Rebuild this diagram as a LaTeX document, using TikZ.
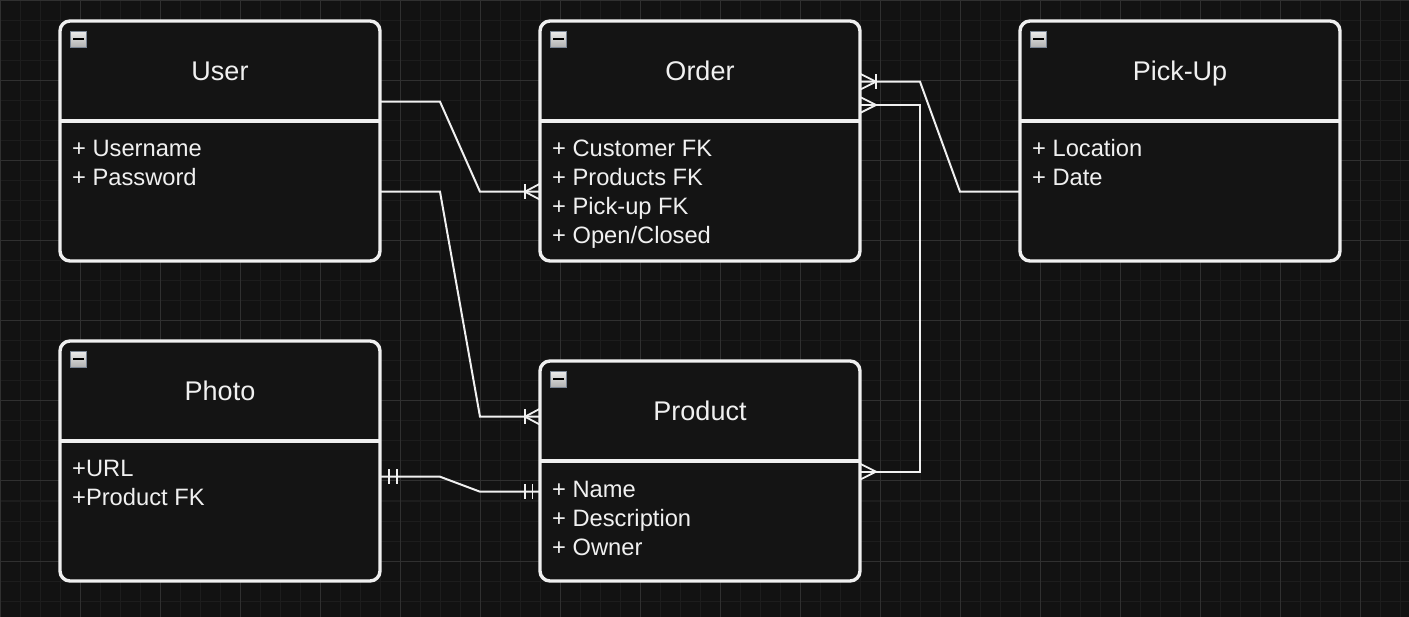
\documentclass[tikz,border=0pt]{standalone}
\usepackage{fontspec}
\setmainfont{Liberation Sans}
\usetikzlibrary{calc}
\definecolor{bg}{HTML}{121212}
\definecolor{gridminor}{HTML}{1D1D1D}
\definecolor{gridmajor}{HTML}{303030}
\definecolor{fg}{HTML}{F0F0F0}
\definecolor{boxfill}{HTML}{141414}
\definecolor{iconedge}{HTML}{7A8594}
\definecolor{icontop}{HTML}{EAEAEA}
\definecolor{iconbot}{HTML}{B0B0B0}
\newcommand\hdrfont{\fontsize{27}{32}\selectfont}
\newcommand\attrfont{\fontsize{23.7}{29}\selectfont}
\begin{document}
\begin{tikzpicture}[x=1pt,y=-1pt,
  table/.style={draw=fg, line width=3.4pt, fill=boxfill, rounded corners=10pt,
    minimum width=320pt, inner sep=0pt, outer sep=0pt},
  divider/.style={draw=fg, line width=3.4pt},
  hdr/.style={anchor=base, inner sep=0pt, text=fg, font=\hdrfont},
  attr/.style={anchor=base west, inner sep=0pt, text=fg, font=\attrfont},
  icon/.style={draw=iconedge, line width=1.2pt, top color=icontop, bottom color=iconbot,
    minimum size=16pt, inner sep=0pt},
  minus/.style={draw=black, line width=2pt},
  rel/.style={draw=fg, line width=2pt},
  tip/.style={draw=fg, line width=1.8pt},
  crowL/.pic={\draw[tip] (0,-8) -- (-15,0) -- (0,8);},
  barL/.pic={\draw[tip] (-15,-7.5) -- (-15,7.5);},
  crowR/.pic={\draw[tip] (0,-8) -- (16,0) -- (0,8);},
  barR/.pic={\draw[tip] (16,-7.5) -- (16,7.5);}
]
\useasboundingbox (0,0) rectangle (1409,617);
\fill[bg] (0,0) rectangle (1409,617);
% grid
\foreach \x in {0,20,...,1400} \draw[gridminor, line width=1pt] (\x,0) -- (\x,617);
\foreach \y in {1,21,...,601} \draw[gridminor, line width=1pt] (0,\y) -- (1409,\y);
\foreach \x in {0,80,...,1360} \draw[gridmajor, line width=1pt] (\x,0) -- (\x,617);
\foreach \y in {1,81,...,561} \draw[gridmajor, line width=1pt] (0,\y) -- (1409,\y);

% ---- User
\node[table, minimum height=240pt] (user) at (220,141) {};
\draw[divider] (60,121) -- (380,121);
\node[icon] (usericon) at (78.5,39.5) {};
\draw[minus] ($(usericon.center)+(-5.5,0)$) -- ($(usericon.center)+(5.5,0)$);
\node[hdr] (userh) at (220,80.7) {User};
\node[attr] (usera1) at (72,157) {+ Username};
\node[attr] (usera2) at (72,186) {+ Password};

% ---- Order
\node[table, minimum height=240pt] (order) at (700,141) {};
\draw[divider] (540,121) -- (860,121);
\node[icon] (ordericon) at (558.5,39.5) {};
\draw[minus] ($(ordericon.center)+(-5.5,0)$) -- ($(ordericon.center)+(5.5,0)$);
\node[hdr] (orderh) at (700,80.7) {Order};
\node[attr] (ordera1) at (552,157) {+ Customer FK};
\node[attr] (ordera2) at (552,186) {+ Products FK};
\node[attr] (ordera3) at (552,215) {+ Pick-up FK};
\node[attr] (ordera4) at (552,243.5) {+ Open/Closed};

% ---- Pick-Up
\node[table, minimum height=240pt] (pickup) at (1180,141) {};
\draw[divider] (1020,121) -- (1340,121);
\node[icon] (pickupicon) at (1038.5,39.5) {};
\draw[minus] ($(pickupicon.center)+(-5.5,0)$) -- ($(pickupicon.center)+(5.5,0)$);
\node[hdr] (pickuph) at (1180,80.7) {Pick-Up};
\node[attr] (pickupa1) at (1032,157) {+ Location};
\node[attr] (pickupa2) at (1032,186) {+ Date};

% ---- Photo
\node[table, minimum height=240pt] (photo) at (220,461) {};
\draw[divider] (60,441) -- (380,441);
\node[icon] (photoicon) at (78.5,359.5) {};
\draw[minus] ($(photoicon.center)+(-5.5,0)$) -- ($(photoicon.center)+(5.5,0)$);
\node[hdr] (photoh) at (220,400.7) {Photo};
\node[attr] (photoa1) at (72,477) {+URL};
\node[attr] (photoa2) at (72,506) {+Product FK};

% ---- Product
\node[table, minimum height=220pt] (product) at (700,471) {};
\draw[divider] (540,461) -- (860,461);
\node[icon] (producticon) at (558.5,379.5) {};
\draw[minus] ($(producticon.center)+(-5.5,0)$) -- ($(producticon.center)+(5.5,0)$);
\node[hdr] (producth) at (700,420.7) {Product};
\node[attr] (producta1) at (552,497) {+ Name};
\node[attr] (producta2) at (552,526) {+ Description};
\node[attr] (producta3) at (552,555) {+ Owner};

% ---- connector end points
\coordinate (u1) at ($(user.north east)+(0,80.7)$);
\coordinate (u2) at ($(user.north east)+(0,170.7)$);
\coordinate (o1) at ($(order.north west)+(0,170.7)$);
\coordinate (o2) at ($(order.north east)+(0,60.7)$);
\coordinate (o3) at ($(order.north east)+(0,84)$);
\coordinate (k1) at ($(pickup.north west)+(0,170.7)$);
\coordinate (ph1) at ($(photo.north east)+(0,135.7)$);
\coordinate (p1) at ($(product.north west)+(0,55.7)$);
\coordinate (p2) at ($(product.north west)+(0,130.7)$);
\coordinate (p3) at ($(product.north east)+(0,110.7)$);

% User -> Order
\draw[rel] (u1) -- ++(60,0) -- ($(o1)+(-60,0)$) -- (o1);
\pic at (o1) {crowL}; \pic at (o1) {barL};
% User -> Product
\draw[rel] (u2) -- ++(60,0) -- ($(p1)+(-60,0)$) -- (p1);
\pic at (p1) {crowL}; \pic at (p1) {barL};
% Photo -> Product
\draw[rel] (ph1) -- ++(60,0) -- ($(p2)+(-60,0)$) -- (p2);
\draw[tip] ($(ph1)+(9,-7.5)$) -- ($(ph1)+(9,7.5)$);
\draw[tip] ($(ph1)+(17,-7.5)$) -- ($(ph1)+(17,7.5)$);
\draw[tip] ($(p2)+(-15,-7.5)$) -- ($(p2)+(-15,7.5)$);
\draw[tip] ($(p2)+(-7.5,-7.5)$) -- ($(p2)+(-7.5,7.5)$);
% Pick-Up -> Order
\draw[rel] (k1) -- ++(-60,0) -- ($(o2)+(60,0)$) -- (o2);
\pic at (o2) {crowR}; \pic at (o2) {barR};
% Order <-> Product
\draw[rel] (o3) -- ++(60,0) |- (p3);
\pic at (o3) {crowR};
\pic at (p3) {crowR};
\end{tikzpicture}
\end{document}
